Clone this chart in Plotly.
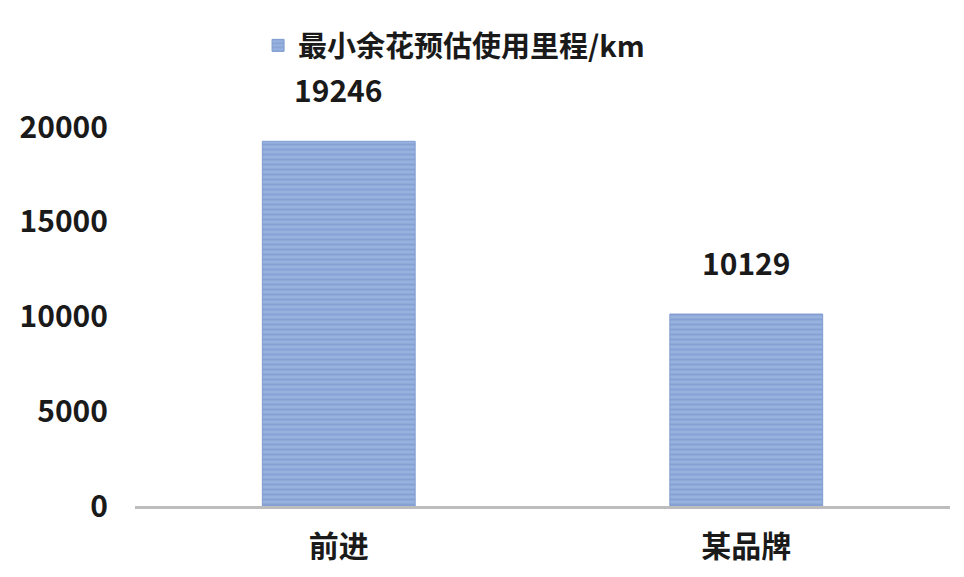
import plotly.graph_objects as go

categories = ["前进", "某品牌"]
values = [19246, 10129]
series_name = "最小余花预估使用里程/km"
y_ticks = [0, 5000, 10000, 15000, 20000]
y_tick_text = ["0", "5000", "10000", "15000", "20000"]

font_family = "Noto Sans CJK SC, Noto Sans, sans-serif"

fig = go.Figure()
fig.add_trace(go.Bar(
    x=categories,
    y=values,
    name=series_name,
    marker=dict(
        color="#98b2df",
        line=dict(color="#7f9bd0", width=1),
        pattern=dict(shape="-", fgcolor="#7290c9", size=5, solidity=0.4),
    ),
    showlegend=True,
))

# value labels sit well above the bars in the original
for cat, val in zip(categories, values):
    fig.add_annotation(
        x=cat, y=val, text=str(val), showarrow=False,
        yshift=52, font=dict(size=30, color="#1a1a1a", family=font_family, weight="bold"),
    )

fig.update_layout(
    width=964, height=577,
    paper_bgcolor="white", plot_bgcolor="white",
    margin=dict(l=127, r=22, t=114, b=79),
    bargap=0.625,
    font=dict(family=font_family, color="#1a1a1a"),
    showlegend=True,
    legend=dict(
        orientation="h", x=0.151, xanchor="left", y=1.215, yanchor="middle",
        font=dict(size=29, family=font_family, weight="bold"),
        itemwidth=30,
    ),
    xaxis=dict(
        showline=True, linecolor="#bdbdbd", linewidth=3,
        showgrid=False, ticks="",
        ticklabelstandoff=12,
        tickfont=dict(size=30, family=font_family, weight="bold"),
    ),
    yaxis=dict(
        range=[0, 20000], tickvals=y_ticks, ticktext=y_tick_text,
        showgrid=False, zeroline=False, showline=False, ticks="",
        ticklabelstandoff=26,
        tickfont=dict(size=30, family=font_family, weight="bold"),
    ),
)

fig.write_html("out.html")
